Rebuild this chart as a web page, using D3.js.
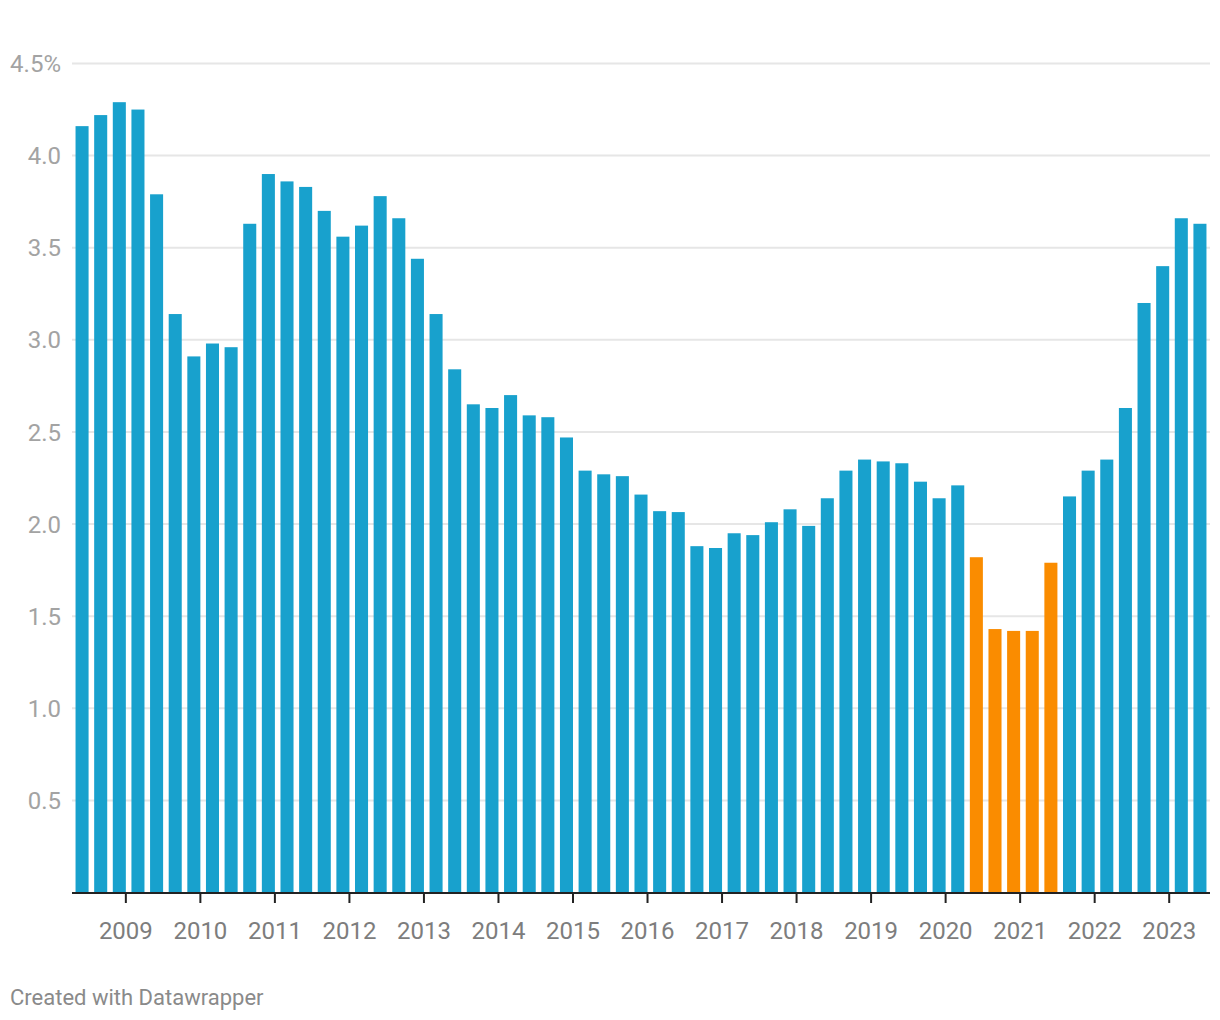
<!DOCTYPE html>
<html>
<head>
<meta charset="utf-8">
<script src="https://cdn.jsdelivr.net/npm/d3@7"></script>
<style>
  body { margin: 0; background: #fff; font-family: Roboto, sans-serif; }
</style>
</head>
<body>
<div id="chart"></div>
<script>
// quarterly values, 2008 Q2 .. 2023 Q2
const quarters = [
  "2008Q2","2008Q3","2008Q4",
  "2009Q1","2009Q2","2009Q3","2009Q4",
  "2010Q1","2010Q2","2010Q3","2010Q4",
  "2011Q1","2011Q2","2011Q3","2011Q4",
  "2012Q1","2012Q2","2012Q3","2012Q4",
  "2013Q1","2013Q2","2013Q3","2013Q4",
  "2014Q1","2014Q2","2014Q3","2014Q4",
  "2015Q1","2015Q2","2015Q3","2015Q4",
  "2016Q1","2016Q2","2016Q3","2016Q4",
  "2017Q1","2017Q2","2017Q3","2017Q4",
  "2018Q1","2018Q2","2018Q3","2018Q4",
  "2019Q1","2019Q2","2019Q3","2019Q4",
  "2020Q1","2020Q2","2020Q3","2020Q4",
  "2021Q1","2021Q2","2021Q3","2021Q4",
  "2022Q1","2022Q2","2022Q3","2022Q4",
  "2023Q1","2023Q2"
];
const values = [
  4.16, 4.22, 4.29,
  4.25, 3.79, 3.14, 2.91,
  2.98, 2.96, 3.63, 3.90,
  3.86, 3.83, 3.70, 3.56,
  3.62, 3.78, 3.66, 3.44,
  3.14, 2.84, 2.65, 2.63,
  2.70, 2.59, 2.58, 2.47,
  2.29, 2.27, 2.26, 2.16,
  2.07, 2.065, 1.88, 1.87,
  1.95, 1.94, 2.01, 2.08,
  1.99, 2.14, 2.29, 2.35,
  2.34, 2.33, 2.23, 2.14,
  2.21, 1.82, 1.43, 1.42,
  1.42, 1.79, 2.15, 2.29,
  2.35, 2.63, 3.20, 3.40,
  3.66, 3.63
];
// quarters drawn in orange
const highlighted = ["2020Q2","2020Q3","2020Q4","2021Q1","2021Q2"];
const yTicks = [0.5, 1.0, 1.5, 2.0, 2.5, 3.0, 3.5, 4.0, 4.5];
const years = d3.range(2009, 2024);

const W = 1220, H = 1020;
const m = { left: 72, right: 1210, top: 63.5, bottom: 892.5 };

const svg = d3.select("#chart").append("svg")
  .attr("width", W).attr("height", H);

const x = d3.scaleBand().domain(quarters).range([m.left, m.right])
  .paddingInner(0.3).paddingOuter(0.19);
const y = d3.scaleLinear().domain([0, 4.5]).range([m.bottom, m.top]);

// gridlines
svg.append("g").selectAll("line")
  .data(yTicks)
  .join("line")
  .attr("x1", m.left).attr("x2", m.right)
  .attr("y1", d => y(d)).attr("y2", d => y(d))
  .attr("stroke", "#e6e6e6").attr("stroke-width", 2);

// y labels
svg.append("g").selectAll("text")
  .data(yTicks)
  .join("text")
  .attr("x", 61)
  .attr("y", d => y(d))
  .attr("dy", "0.36em")
  .attr("text-anchor", "end")
  .attr("fill", "#a3a3a3")
  .style("font-size", "24px")
  .text(d => d === 4.5 ? "4.5%" : d.toFixed(1));

// bars
svg.append("g").selectAll("rect")
  .data(quarters.map((q, i) => ({ q, v: values[i] })))
  .join("rect")
  .attr("x", d => x(d.q))
  .attr("width", x.bandwidth())
  .attr("y", d => y(d.v))
  .attr("height", d => y(0) - y(d.v))
  .attr("fill", d => highlighted.includes(d.q) ? "#fa8c00" : "#18a1cd");

// baseline
svg.append("line")
  .attr("x1", m.left).attr("x2", m.right)
  .attr("y1", 893).attr("y2", 893)
  .attr("stroke", "#222").attr("stroke-width", 2);

// year ticks sit at the end of each Q4 bar
const tickX = yr => x((yr - 1) + "Q4") + x.bandwidth();
const xt = svg.append("g").selectAll("g")
  .data(years)
  .join("g")
  .attr("transform", d => `translate(${tickX(d)},0)`);
xt.append("line")
  .attr("y1", 893).attr("y2", 903)
  .attr("stroke", "#222").attr("stroke-width", 2);
xt.append("text")
  .attr("y", 930)
  .attr("dy", "0.36em")
  .attr("text-anchor", "middle")
  .attr("fill", "#7d7d7d")
  .style("font-size", "24px")
  .text(d => d);

svg.append("text")
  .attr("x", 10).attr("y", 997)
  .attr("dy", "0.36em")
  .attr("fill", "#8a8a8a")
  .style("font-size", "22px")
  .text("Created with Datawrapper");
</script>
</body>
</html>
